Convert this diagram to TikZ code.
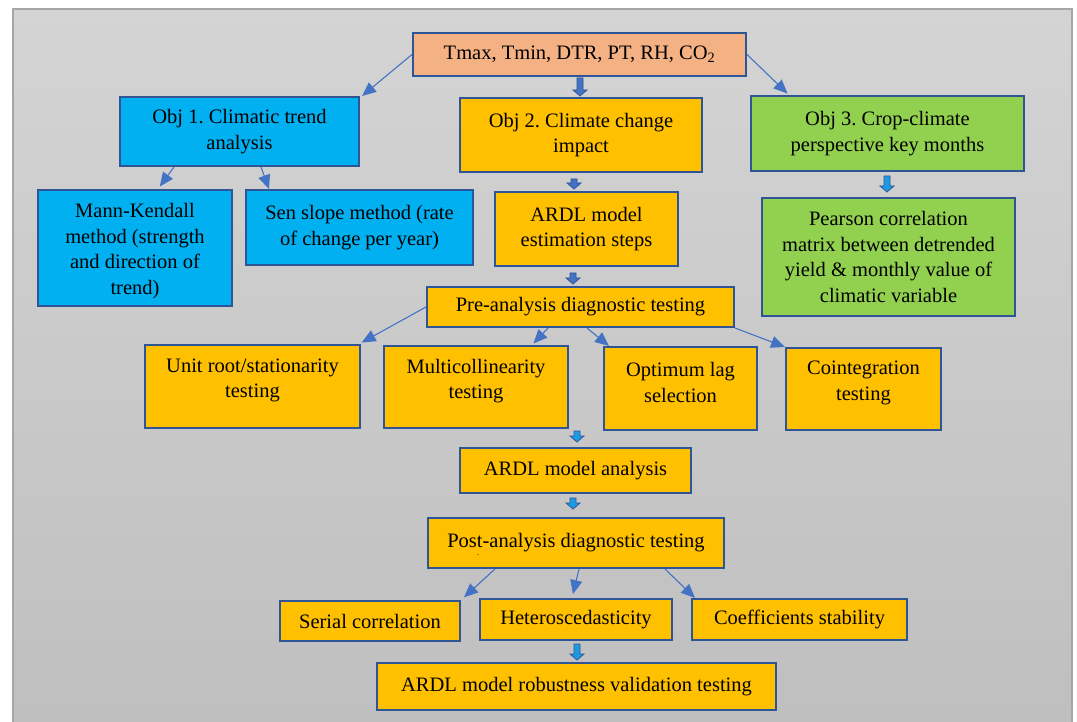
\documentclass[tikz,border=0pt]{standalone}
\usepackage{fontspec}
\setmainfont{Liberation Serif}
\usetikzlibrary{arrows.meta,calc}
\frenchspacing
\definecolor{bgtop}{HTML}{D4D4D4}
\definecolor{bgbot}{HTML}{BFBFBF}
\definecolor{framegray}{HTML}{A6A6A6}
\definecolor{boxline}{HTML}{2F5597}
\definecolor{arrblue}{HTML}{4472C4}
\definecolor{arrcyan}{HTML}{1C9AE2}
\definecolor{peach}{HTML}{F4B183}
\definecolor{cyanbox}{HTML}{00B0F0}
\definecolor{orangebox}{HTML}{FFC000}
\definecolor{greenbox}{HTML}{92D050}
\tikzset{
  box/.style={draw=boxline, line width=2, rectangle, inner sep=0pt, align=center,
    font=\fontsize{20.5}{25.7}\selectfont},
  txt/.style={align=center, inner sep=0pt, font=\fontsize{20.5}{25.7}\selectfont},
  arr/.style={draw=arrblue, line width=1.1, -{Triangle[length=14pt,width=12pt]}},
  barrow/.style={draw=boxline, line width=0.8, fill=#1,
    to path={let \p1=(\tikztostart), \p2=(\tikztotarget) in
      (\x1-3pt,\y1) -- (\x1+3pt,\y1) -- (\x1+3pt,\y2+6pt) -- (\x1+7pt,\y2+6pt)
      -- (\x1,\y2) -- (\x1-7pt,\y2+6pt) -- (\x1-3pt,\y2+6pt) -- cycle}},
}
\begin{document}
\begin{tikzpicture}[x=1pt,y=-1pt]
\useasboundingbox (0,0) rectangle (1077,722);
\fill[white] (0,0) rectangle (1077,722);
\shade[top color=bgtop, bottom color=bgbot] (13,9) rectangle (1072,722);
\draw[framegray, line width=1.2] (13,722) -- (13,9) -- (1072,9) -- (1072,722);

% boxes
\node[box, fill=peach, minimum width=333, minimum height=43] (tmax) at (579.5,54.5) {Tmax, Tmin, DTR, PT, RH, CO\textsubscript{2}};
\node[box, fill=cyanbox, minimum width=239, minimum height=69] (obj1) at (239.5,131.5) {Obj 1. Climatic trend\\analysis};
\node[box, fill=orangebox, minimum width=242, minimum height=74] (obj2) at (581,135) {Obj 2. Climate change\\impact};
\node[box, fill=greenbox, minimum width=273, minimum height=75] (obj3) at (887.5,133.5) {Obj 3. Crop-climate\\perspective key months};
\node[box, fill=cyanbox, minimum width=194, minimum height=116,
  label={[txt,name=mk-t,yshift=-3]center:Mann-Kendall\\method (strength\\and direction of\\trend)}] (mk) at (135,248) {};
\node[box, fill=cyanbox, minimum width=227, minimum height=75] (sen) at (359.5,227.5) {Sen slope method (rate\\of change per year)};
\node[box, fill=orangebox, minimum width=183, minimum height=74] (ardlest) at (586.5,229) {ARDL model\\estimation steps};
\node[box, fill=greenbox, minimum width=253, minimum height=118] (pearson) at (888.5,257) {Pearson correlation\\matrix between detrended\\yield \& monthly value of\\climatic variable};
\node[box, fill=orangebox, minimum width=307, minimum height=40] (pre) at (580.5,307) {Pre-analysis diagnostic testing};
\node[box, fill=orangebox, minimum width=215, minimum height=83,
  label={[txt,name=unit-t,yshift=6]center:Unit root/stationarity\\testing}] (unit) at (252.5,386.5) {};
\node[box, fill=orangebox, minimum width=184, minimum height=82,
  label={[txt,name=multi-t,yshift=6]center:Multicollinearity\\testing}] (multi) at (476,387) {};
\node[box, fill=orangebox, minimum width=153, minimum height=83,
  label={[txt,name=opt-t,yshift=6]center:Optimum lag\\selection}] (opt) at (680.5,388.5) {};
\node[box, fill=orangebox, minimum width=155, minimum height=82,
  label={[txt,name=coint-t,yshift=6]center:Cointegration\\testing}] (coint) at (863.5,389) {};
\node[box, fill=orangebox, minimum width=231, minimum height=45] (ardlan) at (575.5,470.5) {ARDL model analysis};
\node[box, fill=orangebox, minimum width=296, minimum height=50] (post) at (576,543) {Post-analysis diagnostic testing};
\node[font=\fontsize{8}{8}\selectfont, inner sep=0pt] (postdot) at (478,555) {.};
\node[box, fill=orangebox, minimum width=180, minimum height=40] (serial) at (370,621) {Serial correlation};
\node[box, fill=orangebox, minimum width=192, minimum height=41] (hetero) at (576,619.5) {Heteroscedasticity};
\node[box, fill=orangebox, minimum width=215, minimum height=41] (coef) at (799.5,619.5) {Coefficients stability};
\node[box, fill=orangebox, minimum width=399, minimum height=47] (robust) at (576.5,686.5) {ARDL model robustness validation testing};

% thin arrows
\draw[arr] (tmax.west) -- (obj1.north -| 362,0);
\draw[arr, shorten >=2] (tmax.east) -- (obj3.north -| 789,0);
\draw[arr, shorten >=3] (obj1.south -| 174,0) -- (mk.north -| 158,0);
\draw[arr] (obj1.south -| 261,0) -- (sen.north -| 269,0);
\draw[arr, shorten >=3] (pre.west) -- (unit.north -| 359,0);
\draw[arr, shorten >=2] (pre.south -| 548,0) -- (multi.north -| 532,0);
\draw[arr] (pre.south -| 587,0) -- (opt.north -| 609,0);
\draw[arr] (pre.south east) -- (coint.north -| 785,0);
\draw[arr, shorten >=4] (post.south -| 495,0) -- (serial.north -| 461,0);
\draw[arr, shorten >=4] (post.south -| 579,0) -- (hetero.north -| 572,0);
\draw[arr] (post.south -| 665,0) -- (coef.north -| 695,0);

% block arrows
\draw[barrow=arrblue] ($(tmax.south -| 580,0)+(0,1)$) to ($(obj2.north -| 580,0)+(0,-1)$);
\draw[barrow=arrblue] ($(obj2.south -| 574,0)+(0,6)$) to ($(ardlest.north -| 574,0)+(0,-2)$);
\draw[barrow=arrblue] ($(ardlest.south -| 573,0)+(0,6)$) to ($(pre.north -| 573,0)+(0,-2)$);
\draw[barrow=arrcyan] ($(multi.south -| 577,0)+(0,2)$) to ($(ardlan.north -| 577,0)+(0,-5)$);
\draw[barrow=arrcyan] ($(ardlan.south -| 573,0)+(0,4)$) to ($(post.north -| 573,0)+(0,-8)$);
\draw[barrow=arrcyan] ($(obj3.south -| 887,0)+(0,4)$) to ($(pearson.north -| 887,0)+(0,-5)$);
\draw[barrow=arrcyan] ($(hetero.south -| 577,0)+(0,3)$) to ($(robust.north -| 577,0)+(0,-2)$);
\end{tikzpicture}
\end{document}
